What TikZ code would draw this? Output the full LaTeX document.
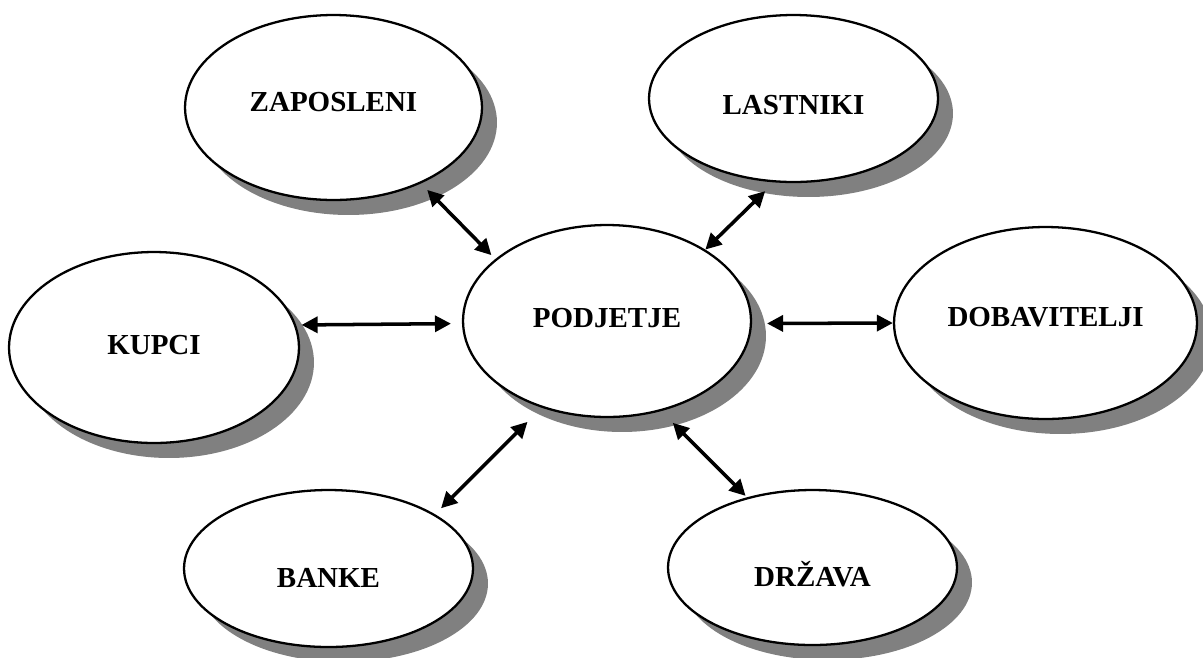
\documentclass[tikz,border=0pt]{standalone}
\usepackage{fontspec}
\setmainfont{Liberation Serif}
\usetikzlibrary{shapes.geometric,shadows,arrows.meta}

\begin{document}
\begin{tikzpicture}[x=0.02cm,y=-0.02cm]
        \tikzstyle{every node}=[font=\fontsize{16.5}{19}\selectfont\bfseries]

        \edef\capht{0.38cm}
        \tikzstyle{party}=[ellipse,draw,fill=white,line width=1.3pt,inner sep=0pt,
            drop shadow={shadow xshift=0.3cm,shadow yshift=-0.3cm,fill=black!50,opacity=1}]
        \tikzstyle{link}=[{Triangle[length=0.32cm,width=0.32cm]}-{Triangle[length=0.32cm,width=0.32cm]},line width=2pt]

        \useasboundingbox (0,0) rectangle (1203,657);

        % the firm in the middle
        \node [party,minimum width=5.76cm,minimum height=3.84cm,text height=\capht,text depth=0.12cm] (pod) at (607,321) {PODJETJE};

        % the parties round it
        \node [party,minimum width=5.94cm,minimum height=3.70cm,text height=\capht,text depth=0.22cm] (zap) at (333.5,107.5) {ZAPOSLENI};
        \node [party,minimum width=5.78cm,minimum height=3.34cm,text height=0.64cm,text depth=0pt] (las) at (793.5,98.5) {LASTNIKI};
        \node [party,minimum width=5.80cm,minimum height=3.82cm,text height=\capht,text depth=0.10cm] (kup) at (154,347.5) {KUPCI};
        \node [party,minimum width=6.06cm,minimum height=3.84cm,text height=\capht,text depth=0.24cm] (dob) at (1045.5,323) {DOBAVITELJI};
        \node [party,minimum width=5.78cm,minimum height=3.14cm,text height=0.76cm,text depth=0pt] (ban) at (328.5,568.5) {BANKE};
        \node [party,minimum width=5.78cm,minimum height=3.10cm,text height=0.76cm,text depth=0pt] (drz) at (812.5,567.5) {DRŽAVA};

        % two-way links
        \draw [link,shorten <=0.18cm,shorten >=0.11cm] (zap.-41) -- (pod.151);
        \draw [link,shorten <=0.25cm] (las.-103) -- (pod.36);
        \draw [link,shorten <=0.11cm,shorten >=0.22cm] (kup.9.5) -- (pod.181.2);
        \draw [link,shorten <=0.30cm] (pod.-1.2) -- (dob.180);
        \draw [link,shorten <=0.40cm,shorten >=0.17cm] (pod.-127) -- (ban.27.6);
        \draw [link,shorten <=0.33cm,shorten >=0.04cm] (pod.-59.5) -- (drz.133.7);
\end{tikzpicture}
\end{document}
